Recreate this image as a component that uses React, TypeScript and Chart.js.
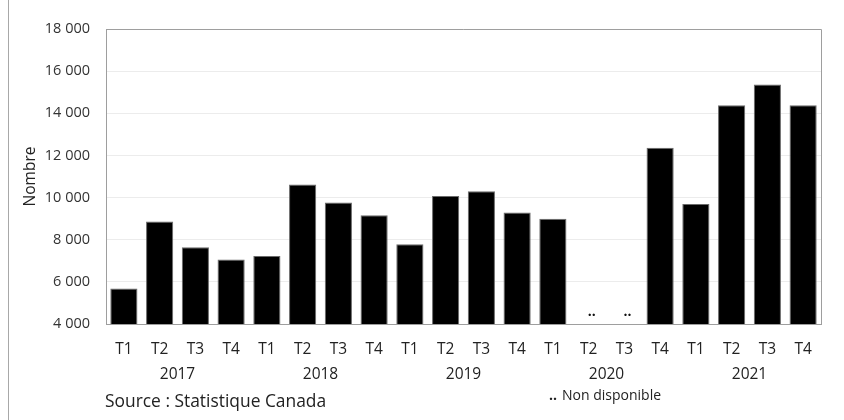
import React, { useEffect, useRef } from "react";
import { Chart, registerables } from "chart.js";

Chart.register(...registerables);

const quarters = [
  "T1", "T2", "T3", "T4",
  "T1", "T2", "T3", "T4",
  "T1", "T2", "T3", "T4",
  "T1", "T2", "T3", "T4",
  "T1", "T2", "T3", "T4",
];
const years = ["2017", "2018", "2019", "2020", "2021"];
const values: (number | null)[] = [
  5680, 8870, 7640, 7060,
  7230, 10620, 9770, 9160,
  7790, 10080, 10300, 9290,
  8990, null, null, 12360,
  9700, 14380, 15370, 14380,
];
const yTicks = [4000, 6000, 8000, 10000, 12000, 14000, 16000, 18000];
const yTitle = "Nombre";
const sourceText = "Source : Statistique Canada";
const missingMark = "..";
const noteText = "Non disponible";

const FONT = "'Open Sans', 'Noto Sans', sans-serif";

function fmt(v: number): string {
  return String(v).replace(/\B(?=(\d{3})+(?!\d))/g, " ");
}

const decorPlugin = {
  id: "decor",
  afterDraw(chart: any) {
    const { ctx, chartArea, scales } = chart;
    ctx.save();
    // outer left border
    ctx.strokeStyle = "#a8a8a8";
    ctx.lineWidth = 1;
    ctx.beginPath();
    ctx.moveTo(8.5, 0);
    ctx.lineTo(8.5, chart.height);
    ctx.stroke();
    // plot frame top & right
    ctx.strokeStyle = "#9e9e9e";
    ctx.beginPath();
    ctx.moveTo(chartArea.left, chartArea.top + 0.5);
    ctx.lineTo(chartArea.right + 0.5, chartArea.top + 0.5);
    ctx.lineTo(chartArea.right + 0.5, chartArea.bottom);
    ctx.stroke();
    // missing markers
    ctx.fillStyle = "#111";
    ctx.font = `bold 14px ${FONT}`;
    ctx.textAlign = "center";
    ctx.textBaseline = "alphabetic";
    values.forEach((v, i) => {
      if (v === null) {
        const x = scales.x.getPixelForValue(i);
        ctx.fillText(missingMark, x + 3, chartArea.bottom - 8);
      }
    });
    // source
    ctx.font = `17.4px ${FONT}`;
    ctx.fillStyle = "#222";
    ctx.textAlign = "left";
    ctx.textBaseline = "middle";
    ctx.fillText(sourceText, chartArea.left - 1, 402);
    // note
    ctx.font = `bold 14px ${FONT}`;
    ctx.fillText(missingMark, 549, 396);
    ctx.font = `14px ${FONT}`;
    ctx.fillText(noteText, 562, 396);
    ctx.restore();
  },
};

export default function App() {
  const ref = useRef<HTMLCanvasElement | null>(null);
  useEffect(() => {
    document.body.style.margin = "0";
    const canvas = ref.current;
    if (!canvas) return;
    const chart = new Chart(canvas, {
      type: "bar",
      data: {
        labels: quarters,
        datasets: [
          {
            data: values,
            backgroundColor: "#000",
            borderColor: "#6a6a6a",
            borderWidth: 1,
            barPercentage: 0.76,
            categoryPercentage: 1,
          },
        ],
      },
      options: {
        responsive: false,
        animation: false,
        devicePixelRatio: 1,
        layout: { padding: { top: 29, right: 23, left: 0, bottom: 0 } },
        plugins: { legend: { display: false }, tooltip: { enabled: false } },
        scales: {
          x: {
            type: "category",
            position: "bottom",
            weight: 0,
            grid: { display: false, drawTicks: false },
            border: { display: true, color: "#9e9e9e", width: 1 },
            ticks: {
              color: "#222",
              font: { family: FONT, size: 15.5 },
              padding: 16,
              maxRotation: 0,
              autoSkip: false,
            },
            afterFit: (s: any) => { s.height = 39; },
          },
          x2: {
            type: "category",
            position: "bottom",
            weight: 1,
            labels: years,
            offset: true,
            grid: { display: false, drawTicks: false },
            border: { display: false },
            ticks: {
              color: "#222",
              font: { family: FONT, size: 15.5 },
              padding: 2,
              maxRotation: 0,
              autoSkip: false,
            },
            afterFit: (s: any) => { s.height = 57; },
          },
          y: {
            min: yTicks[0],
            max: yTicks[yTicks.length - 1],
            afterBuildTicks: (s: any) => {
              s.ticks = yTicks.map((v) => ({ value: v }));
            },
            grid: { color: "#ececec", drawTicks: false },
            border: { display: true, color: "#9e9e9e", width: 1 },
            ticks: {
              color: "#333",
              font: { family: FONT, size: 14.5 },
              padding: 16,
              callback: (v: any) => fmt(Number(v)),
            },
            title: {
              display: true,
              text: yTitle,
              color: "#222",
              font: { family: FONT, size: 15.5 },
              padding: { top: 21, bottom: 0 },
            },
            afterFit: (s: any) => { s.width = 106; },
          },
        },
      },
      plugins: [decorPlugin],
    });
    return () => chart.destroy();
  }, []);
  return (
    <div style={{ width: 844, height: 420, background: "#fff" }}>
      <canvas ref={ref} width={844} height={420} />
    </div>
  );
}
